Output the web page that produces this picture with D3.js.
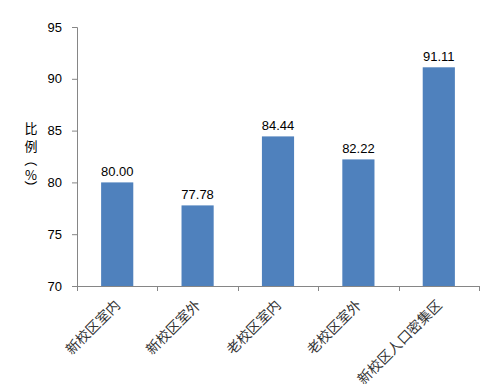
<!DOCTYPE html>
<html><head><meta charset="utf-8">
<script src="https://d3js.org/d3.v7.min.js"></script>
<style>body{margin:0;background:#fff}</style>
</head><body>
<script>
const categories = ["新校区室内","新校区室外","老校区室内","老校区室外","新校区人口密集区"];
const values = [80.00, 77.78, 84.44, 82.22, 91.11];
const yTicks = [70,75,80,85,90,95];
const yLabelChars = ["比","例","（","%","）"];

(function(){
const W = 493, H = 392;
const svg = d3.select("body").append("svg").attr("width", W).attr("height", H);
const mLeft = 77, mRight = 479, mTop = 27, mBottom = 286;

const x = d3.scaleBand().domain(categories).range([mLeft, mRight]).paddingInner(0.6).paddingOuter(0.3);
const xTick = d3.scaleBand().domain(categories).range([mLeft, mRight]).padding(0);
const y = d3.scaleLinear().domain([70, 95]).range([mBottom, mTop]);

const axisColor = "#868686";
const numFont = "'Liberation Sans', Arial, sans-serif";
const cjkFont = "'Noto Sans CJK SC', sans-serif";

// y axis
const yAxis = svg.append("g").attr("transform", `translate(${mLeft},0)`)
  .call(d3.axisLeft(y).tickValues(yTicks).tickSize(5).tickPadding(10).tickFormat(d3.format("d")));
yAxis.select(".domain").attr("stroke", axisColor).attr("d", `M-5,${mTop+0.5}H0.5V${mBottom+0.5}`);
yAxis.selectAll(".tick line").attr("stroke", axisColor);
yAxis.selectAll(".tick text").attr("font-family", numFont).attr("font-size", 13).attr("fill", "#000");

// x axis
const xAxis = svg.append("g").attr("transform", `translate(0,${mBottom})`);
xAxis.append("line").attr("x1", mLeft).attr("x2", mRight).attr("y1", 0.5).attr("y2", 0.5).attr("stroke", axisColor);
const edges = categories.map(c => xTick(c)).concat([mRight]);
xAxis.selectAll("line.t").data(edges).join("line").attr("class","t")
  .attr("x1", d => Math.round(d)+0.5).attr("x2", d => Math.round(d)+0.5)
  .attr("y1", 0).attr("y2", 5).attr("stroke", axisColor);

// bars
svg.selectAll("rect.bar").data(values).join("rect").attr("class","bar")
  .attr("x", (d,i) => x(categories[i]))
  .attr("width", x.bandwidth())
  .attr("y", d => y(d))
  .attr("height", d => mBottom - y(d))
  .attr("fill", "#4f81bd");

// value labels
svg.selectAll("text.val").data(values).join("text").attr("class","val")
  .attr("x", (d,i) => x(categories[i]) + x.bandwidth()/2)
  .attr("y", d => y(d) - 6)
  .attr("text-anchor", "middle")
  .attr("font-family", numFont).attr("font-size", 13).attr("fill", "#000")
  .text(d => d.toFixed(2));

// category labels
svg.selectAll("text.cat").data(categories).join("text").attr("class","cat")
  .attr("transform", d => `translate(${x(d) + x.bandwidth()/2 + 4},${mBottom + 20}) rotate(-45)`)
  .attr("text-anchor", "end")
  .attr("font-family", cjkFont).attr("font-size", 14).attr("fill", "#333")
  .text(d => d);

// y label (vertical)
const ylab = svg.append("g");
const ys = [127, 145, 160, 174, 187];
yLabelChars.forEach((c, i) => {
  const rot = (c === "（" || c === "）");
  ylab.append("text")
    .attr("transform", `translate(31,${ys[i]})` + (rot ? " rotate(90)" : ""))
    .attr("text-anchor", "middle").attr("dominant-baseline", "central")
    .attr("font-family", cjkFont).attr("font-size", 13).attr("fill", "#000")
    .text(c);
});
})();
</script>
</body></html>
